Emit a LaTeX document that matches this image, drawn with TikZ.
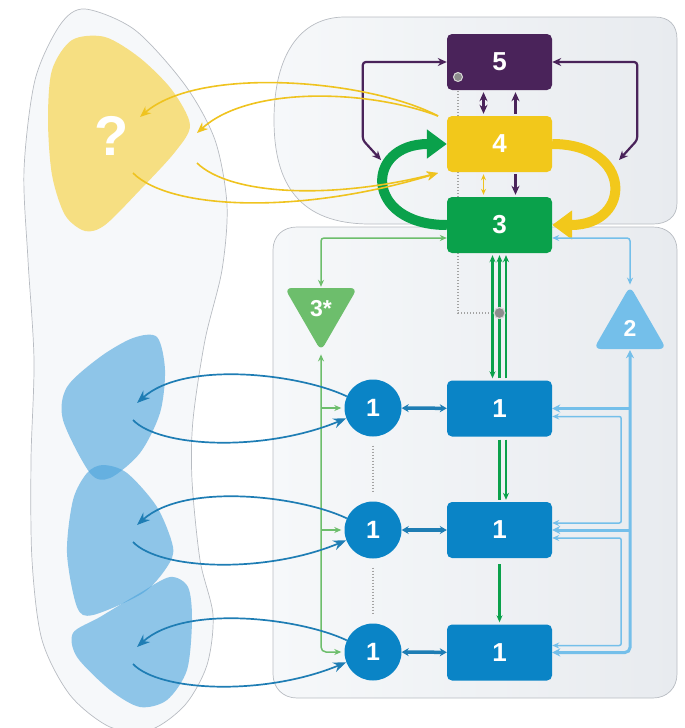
\documentclass[tikz,border=0pt]{standalone}
\usepackage{fontspec}
\setmainfont{Liberation Sans}
\usetikzlibrary{arrows.meta,shapes.geometric,positioning}

\definecolor{dpurple}{HTML}{4A235A}
\definecolor{yel}{HTML}{F2C81B}
\definecolor{yline}{HTML}{EFC31F}
\definecolor{grn}{HTML}{0AA14B}
\definecolor{blu}{HTML}{0A84C6}
\definecolor{dblu}{HTML}{1E7DB4}
\definecolor{lgrn}{HTML}{6DBE6C}
\definecolor{lblu}{HTML}{74BFEA}
\definecolor{yblob}{HTML}{F6DF82}
\definecolor{bblob}{HTML}{4AA3DC}
\definecolor{frame}{HTML}{B8BCC2}
\definecolor{bgl}{HTML}{F6F8FA}
\definecolor{bgr}{HTML}{E8EBEF}
\definecolor{dotgray}{HTML}{8C8C8C}

\pgfdeclarelayer{back}
\pgfdeclarelayer{mid}
\pgfsetlayers{back,mid,main}

\tikzset{
  box/.style={rectangle, rounded corners=5pt, minimum width=105pt, minimum height=56pt,
    inner sep=0pt, text=white, font=\bfseries\fontsize{26}{26}\selectfont},
  unit/.style={circle, fill=blu, minimum size=57pt, inner sep=0pt, text=white,
    font=\bfseries\fontsize{25}{25}\selectfont},
  tri/.style={regular polygon, regular polygon sides=3, minimum size=84pt, inner sep=0pt,
    rounded corners=7pt, text=white, font=\bfseries\fontsize{23}{23}\selectfont},
  graydot/.style={circle, fill=dotgray, draw=white!70!gray, line width=1pt,
    minimum size=11pt, inner sep=0pt},
  dotline/.style={dotgray!80, line width=1.4pt, dash pattern=on 1.4pt off 1.6pt},
  container/.style={draw=frame, line width=0.7pt, left color=bgl, right color=bgr},
  gline/.style={grn, line width=2.6pt, >={Stealth[length=7pt,width=6pt]},
    shorten <=2pt, shorten >=2pt},
  pline/.style={dpurple, line width=2.2pt, >={Stealth[length=9pt,width=8pt]}},
  ythin/.style={yline, line width=1.6pt, >={Stealth[length=11pt,width=9pt]}},
  barrow/.style={dblu, line width=1.7pt, >={Stealth[length=13pt,width=10pt]}},
  lgline/.style={lgrn, line width=1.5pt, >={Stealth[length=7pt,width=6pt]}},
  lbline/.style={lblu, line width=1.5pt, >={Stealth[length=7pt,width=6pt]}},
  lbthick/.style={lblu, line width=3pt, >={Stealth[length=8pt,width=8pt]}},
  big/.style={line width=10pt, -{Triangle[length=20pt,width=28pt]}}
}

\begin{document}
\begin{tikzpicture}[x=1pt, y=-1pt]
  \useasboundingbox (0,0) rectangle (685,728);

  % backgrounds
  \begin{pgfonlayer}{back}
  \path[draw=frame, line width=0.7pt, fill=bgl] plot[smooth cycle] coordinates {
    (85,9) (135,30) (185,85) (215,140) (227,205) (222,270) (205,340) (193,420)
    (192,480) (200,560) (213,615) (207,665) (185,705) (150,730) (110,727) (70,695)
    (42,640) (32,560) (31,460) (34,360) (28,260) (24,170) (35,80) (60,25)};
  \path[container] (345,17) -- (655,17) .. controls (669,17) and (677,25) .. (677,39)
    -- (677,203) .. controls (677,217) and (667,224) .. (653,224) -- (370,224)
    .. controls (300,224) and (274,185) .. (274,120)
    .. controls (274,55) and (300,17) .. (345,17) -- cycle;
  \path[container] (297,227) -- (653,227) .. controls (667,227) and (677,236) .. (677,250)
    -- (677,674) .. controls (677,688) and (667,698) .. (653,698) -- (297,698)
    .. controls (283,698) and (273,688) .. (273,674) -- (273,250)
    .. controls (273,236) and (283,227) .. (297,227) -- cycle;
  \end{pgfonlayer}

  % blobs
  \fill[yblob] plot[smooth cycle] coordinates {(72,40) (105,37) (140,58) (172,90)
    (190,125) (175,152) (140,190) (105,225) (85,231) (65,215) (52,175) (48,120) (52,70)};
  \fill[bblob, fill opacity=0.6] plot[smooth cycle] coordinates {(157,337) (165,370)
    (160,413) (140,453) (110,478) (90,473) (63,420) (67,387) (100,357) (133,338)};
  \fill[bblob, fill opacity=0.6] plot[smooth cycle] coordinates {(103,465) (127,473)
    (157,507) (173,547) (167,567) (143,593) (93,615) (77,607) (67,553) (73,500) (87,473)};
  \fill[bblob, fill opacity=0.6] plot[smooth cycle] coordinates {(170,577) (188,587)
    (192,620) (187,670) (167,700) (140,707) (110,690) (77,657) (73,633) (100,617) (140,593)};
  \node[text=white, font=\bfseries\fontsize{56}{56}\selectfont] (q) at (112,136) {?};

  % nodes
  \node[box, fill=dpurple] (5) at (499.5,62) {5};
  \node[box, fill=yel] (4) at (499.5,144) {4};
  \node[box, fill=grn] (3) at (499.5,225) {3};
  \node[box, fill=blu] (r1) at (499.5,408.5) {1};
  \node[box, fill=blu] (r2) at (499.5,530) {1};
  \node[box, fill=blu] (r3) at (499.5,652.5) {1};
  \node[unit] (c1) at (373,408) {1};
  \node[unit] (c2) at (373,530) {1};
  \node[unit] (c3) at (373,652) {1};
  \node[tri, fill=lgrn, shape border rotate=180] (3s) at (321,309) {3*};
  \node[tri, fill=lblu] (2) at (630,328) {2};

  \coordinate (pl) at (381,160);
  \coordinate (pr) at (619,160);
  \coordinate (yo) at (438,116);
  \coordinate (yi) at (438,173);
  \coordinate (q1) at (140,117);
  \coordinate (q2) at (197,133);
  \coordinate (q3) at (133,173);
  \coordinate (q4) at (197,163);

  % big loops
  \draw[big, grn] (3.west) .. controls (364,225) and (364,144) .. (4.west);
  \draw[big, yel] (4.east) .. controls (633,144) and (633,225) .. (3.east);

  % purple links
  \draw[pline, <->, rounded corners=3pt] (5.west) -- ++(-84,0) -- ++(0,78) -- (pl);
  \draw[pline, <->, rounded corners=3pt] (5.east) -- ++(85,0) -- ++(0,78) -- (pr);
  \draw[pline, <->, shorten <=2pt, shorten >=2pt] ([xshift=-16pt]4.north) -- ([xshift=-16pt]5.south);
  \draw[pline, ->, shorten <=2pt, shorten >=2pt] ([xshift=16pt]4.north) -- ([xshift=16pt]5.south);
  \draw[pline, ->, shorten <=2pt, shorten >=2pt] ([xshift=16pt]4.south) -- ([xshift=16pt]3.north);
  \draw[ythin, <->, line width=1.3pt, >={Stealth[length=6pt,width=5pt]}, shorten <=2pt, shorten >=2pt]
    ([xshift=-16pt]4.south) -- ([xshift=-16pt]3.north);

  % yellow links to ?
  \draw[ythin, ->] (yo) .. controls (370,80) and (200,65) .. (q1);
  \draw[ythin, ->] (yo) .. controls (370,90) and (250,85) .. (q2);
  \draw[ythin, ->] (q3) .. controls (170,210) and (300,215) .. (yi);
  \draw[ythin, ->] (q4) .. controls (230,195) and (330,200) .. (yi);

  % green stack
  \draw[gline, <->] ([xshift=-7pt]r1.north) -- ([xshift=-7pt]3.south);
  \draw[gline, ->] (r1.north) -- (3.south);
  \draw[gline, ->] ([xshift=6.5pt]r1.north) -- ([xshift=6.5pt]3.south);
  \draw[gline, shorten <=3pt] (r1.south) -- (r2.north);
  \draw[gline, ->, shorten <=3pt] ([xshift=6.5pt]r1.south) -- ([xshift=6.5pt]r2.north);
  \draw[gline, ->, shorten <=6pt] (r2.south) -- (r3.north);

  % gray dotted
  \node[graydot, minimum size=9pt] (g1) at (458,77) {};
  \node[graydot] (g2) at (499.5,313) {};
  \begin{pgfonlayer}{mid}
  \draw[dotline] (g1) -- (g1 |- g2) -- (g2);
  \end{pgfonlayer}
  \draw[dotline, shorten <=9pt, shorten >=9pt] (c1) -- (c2);
  \draw[dotline, shorten <=9pt, shorten >=9pt] (c2) -- (c3);
  \node[graydot] at (g2) {};

  % 3* links
  \draw[lgline, <->, rounded corners=3pt, shorten >=1pt] ([yshift=-13pt]3.west) -| (3s.north);
  \draw[lgline, <->, rounded corners=5pt, shorten >=3pt, shorten <=3pt] (3s.south) |- (c3.west);
  \draw[lgline, ->, shorten >=3pt] (3s.south |- c1.west) -- (c1.west);
  \draw[lgline, ->, shorten >=3pt] (3s.south |- c2.west) -- (c2.west);

  % 2 links
  \draw[lbline, <->, rounded corners=3pt, shorten >=1pt] ([yshift=-13pt]3.east) -| (2.north);
  \draw[lbthick, <->, rounded corners=5pt, shorten <=1pt] (2.south) |- (r3.east);
  \draw[lbthick, ->] (2.south |- r1.east) -- (r1.east);
  \draw[lbthick, ->] (2.south |- r2.east) -- (r2.east);
  \draw[lbline, <->, rounded corners=2pt] ([yshift=-8pt]r1.east) -- ++(69,0) |- ([yshift=7pt]r2.east);
  \draw[lbline, <->, rounded corners=2pt] ([yshift=-8pt]r2.east) -- ++(69,0) |- ([yshift=7pt]r3.east);

  % unit to rect
  \draw[dblu, line width=3.5pt, <->, >={Stealth[length=7pt,width=8pt]}] (c1) -- (r1);
  \draw[dblu, line width=3.5pt, <->, >={Stealth[length=7pt,width=8pt]}] (c2) -- (r2);
  \draw[dblu, line width=3.5pt, <->, >={Stealth[length=7pt,width=8pt]}] (c3) -- (r3);

  % units to blobs
  \foreach \c/\d in {c1/0, c2/122, c3/244} {
    \coordinate (bo) at (137,403+\d);
    \coordinate (bi) at (133,420+\d);
    \draw[barrow, ->] (\c.156) .. controls (300,374+\d) and (185,360+\d) .. (bo);
    \draw[barrow, ->] (bi) .. controls (160,448+\d) and (265,452+\d) .. (\c.201);
  }
\end{tikzpicture}
\end{document}
